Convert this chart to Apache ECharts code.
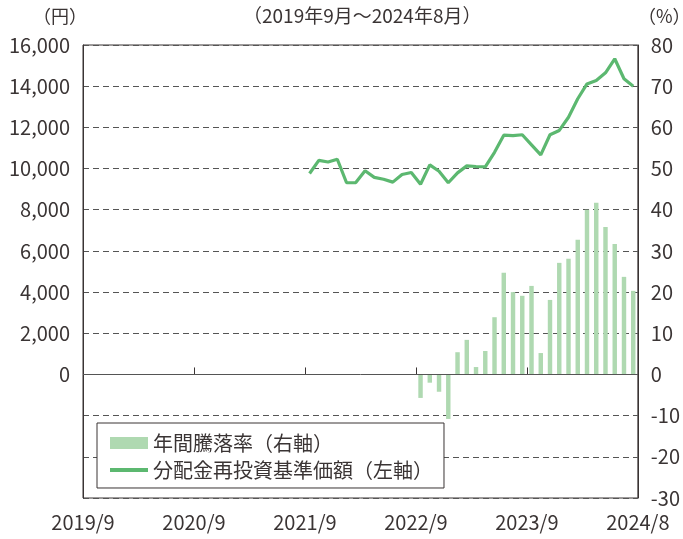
<!DOCTYPE html>
<html>
<head>
<meta charset="utf-8">
<script src="https://cdn.jsdelivr.net/npm/echarts@6/dist/echarts.min.js"></script>
<style>
  html, body { margin: 0; padding: 0; background: #fff; }
  #chart { width: 683px; height: 539px; }
</style>
</head>
<body>
<div id="chart"></div>
<script>
// 月次カテゴリ（2019/9～2024/8）
const months = [
	"2019/9","2019/10","2019/11","2019/12","2020/1","2020/2","2020/3","2020/4","2020/5","2020/6","2020/7","2020/8",
	"2020/9","2020/10","2020/11","2020/12","2021/1","2021/2","2021/3","2021/4","2021/5","2021/6","2021/7","2021/8",
	"2021/9","2021/10","2021/11","2021/12","2022/1","2022/2","2022/3","2022/4","2022/5","2022/6","2022/7","2022/8",
	"2022/9","2022/10","2022/11","2022/12","2023/1","2023/2","2023/3","2023/4","2023/5","2023/6","2023/7","2023/8",
	"2023/9","2023/10","2023/11","2023/12","2024/1","2024/2","2024/3","2024/4","2024/5","2024/6","2024/7","2024/8"
];
const xTickLabels = ["2019/9", "2020/9", "2021/9", "2022/9", "2023/9", "2024/8"];

// 分配金再投資基準価額（円） 2021/9～
const navValues = [
	9760, 10400, 10320, 10450, 9310, 9320, 9890, 9570, 9480, 9340, 9710, 9810,
	9240, 10180, 9870, 9310, 9790, 10130, 10100, 10080, 10790, 11620, 11600, 11640,
	11150, 10660, 11640, 11850, 12490, 13390, 14110, 14280, 14650, 15330, 14360, 14000
];
// 年間騰落率（%） 2022/9～
const returnValues = [
	-5.7, -2.0, -4.2, -10.8, 5.4, 8.4, 1.8, 5.7, 13.9, 24.7, 20.0, 19.1,
	21.5, 5.2, 18.1, 27.1, 28.1, 32.7, 40.0, 41.7, 35.8, 31.7, 23.7, 20.3
];

const navSeries = new Array(months.length - navValues.length).fill(null).concat(navValues);
const returnSeries = new Array(months.length - returnValues.length).fill(null).concat(returnValues);

const font = "'Noto Sans CJK JP', 'Noto Sans', sans-serif";
const textColor = "#3a3434";
const lineColor = "#5cb870";

const chart = echarts.init(document.getElementById("chart"), null, { renderer: "canvas" });
chart.setOption({
	animation: false,
	backgroundColor: "#fff",
	textStyle: { fontFamily: font, color: textColor },
	grid: {
		left: 83, right: 45, top: 45, bottom: 41,
		show: true, borderColor: "#3a3434", borderWidth: 1, containLabel: false,
	},
	graphic: [
		{ type: "text", left: 33, top: 7, style: { text: "（円）", font: "18px " + font, fill: textColor } },
		{ type: "text", left: 638, top: 7, style: { text: "（%）", font: "18px " + font, fill: textColor } },
		{ type: "text", left: 243, top: 6, style: { text: "（2019年9月～2024年8月）", font: "19px " + font, fill: textColor } },
	],
	legend: {
		orient: "vertical",
		left: 97, top: 423,
		backgroundColor: "#fff",
		borderColor: "#3a3434", borderWidth: 1,
		padding: [10, 11, 8, 11],
		itemGap: 7,
		itemWidth: 38, itemHeight: 12,
		textStyle: { fontSize: 20, lineHeight: 19, color: textColor, fontFamily: font },
		data: [
			{ name: "年間騰落率（右軸）", icon: "rect" },
			{ name: "分配金再投資基準価額（左軸）", itemStyle: { opacity: 0 }, lineStyle: { width: 4, color: lineColor } },
		],
	},
	xAxis: [
		{
			type: "category",
			data: months,
			boundaryGap: true,
			show: false,
		},
		{
			// 目盛ラベル用
			type: "value",
			min: 0, max: 60, interval: 12,
			position: "bottom",
			axisLine: { show: false },
			axisTick: { show: true, inside: true, length: 7, lineStyle: { color: "#3a3434" } },
			splitLine: { show: false },
			axisLabel: {
				fontSize: 20, color: textColor, margin: 14,
				formatter: (v) => xTickLabels[Math.round(v / 12)],
			},
		},
	],
	yAxis: [
		{
			type: "value",
			min: -6000, max: 16000, interval: 2000,
			axisLine: { show: true, lineStyle: { color: "#3a3434" } },
			axisTick: { show: false },
			axisLabel: {
				fontSize: 20, color: textColor, margin: 13,
				formatter: (v) => (v < 0 ? "" : v.toLocaleString("en-US")),
			},
			splitLine: { show: true, lineStyle: { color: "#555", type: [6, 4], width: 1 } },
		},
		{
			type: "value",
			min: -30, max: 80, interval: 10,
			axisLine: { show: true, lineStyle: { color: "#3a3434" } },
			axisTick: { show: false },
			axisLabel: { fontSize: 20, color: textColor, margin: 13 },
			splitLine: { show: false },
		},
	],
	series: [
		{
			name: "年間騰落率（右軸）",
			type: "bar",
			xAxisIndex: 0,
			yAxisIndex: 1,
			data: returnSeries,
			barWidth: "48%",
			itemStyle: { color: "#afd9b1" },
			markLine: {
				silent: true,
				symbol: "none",
				label: { show: false },
				lineStyle: { color: "#555", type: "solid", width: 1 },
				data: [{ yAxis: 0 }],
			},
		},
		{
			name: "分配金再投資基準価額（左軸）",
			type: "line",
			xAxisIndex: 0,
			yAxisIndex: 0,
			data: navSeries,
			symbol: "none",
			lineStyle: { color: lineColor, width: 3.2 },
			itemStyle: { color: lineColor },
		},
	],
});
</script>
</body>
</html>
